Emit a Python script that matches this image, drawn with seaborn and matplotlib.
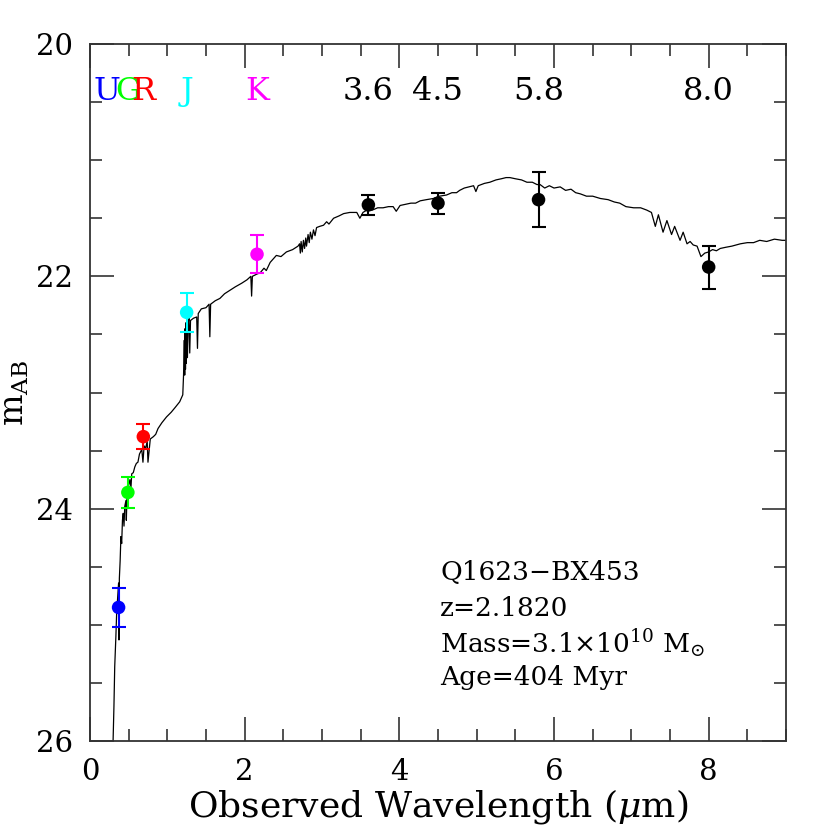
import numpy as np
import pandas as pd
import seaborn as sns
import matplotlib.pyplot as plt

sns.set_style("ticks")
plt.rcParams['font.family'] = ['DejaVu Serif']
plt.rcParams['mathtext.fontset'] = 'dejavuserif'
plt.rcParams['text.color'] = 'black'
plt.rcParams['axes.labelcolor'] = 'black'
plt.rcParams['xtick.labelcolor'] = 'black'
plt.rcParams['ytick.labelcolor'] = 'black'

# photometry
band_names = ["U", "G", "R", "J", "K", "3.6", "4.5", "5.8", "8.0"]
band_wave = [0.37, 0.49, 0.69, 1.25, 2.16, 3.6, 4.5, 5.8, 8.0]
band_mag = [24.85, 23.86, 23.38, 22.31, 21.81, 21.385, 21.37, 21.34, 21.92]
band_err = [0.17, 0.13, 0.11, 0.165, 0.165, 0.085, 0.09, 0.235, 0.185]
band_colors = ["#0000ff", "#00ff00", "#ff0000", "#00ffff", "#ff00ff",
               "black", "black", "black", "black"]

# best-fit model spectrum
model_wave = [0.295, 0.31, 0.32, 0.335, 0.345, 0.36, 0.37, 0.375, 0.38, 0.39,
              0.40, 0.41, 0.42, 0.43, 0.44, 0.45, 0.465, 0.47, 0.48, 0.50,
              0.517, 0.53, 0.54, 0.56, 0.58, 0.60, 0.62, 0.64, 0.67, 0.685,
              0.70, 0.72, 0.74, 0.75, 0.78, 0.82, 0.85, 0.88, 0.93, 0.99,
              1.05, 1.10, 1.16, 1.20, 1.21, 1.22, 1.225, 1.23, 1.235, 1.24,
              1.245, 1.25, 1.26, 1.27, 1.28, 1.29, 1.30, 1.34, 1.38, 1.39,
              1.40, 1.44, 1.50, 1.54, 1.55, 1.56, 1.62, 1.68, 1.74, 1.81,
              1.88, 1.96, 2.03, 2.08, 2.09, 2.10, 2.16, 2.20, 2.25, 2.28,
              2.33, 2.41, 2.47, 2.54, 2.62, 2.69, 2.71, 2.72, 2.73, 2.745,
              2.76, 2.775, 2.79, 2.80, 2.82, 2.835, 2.85, 2.87, 2.89, 2.91,
              2.93, 2.97, 3.02, 3.06, 3.09, 3.15, 3.22, 3.28, 3.36, 3.45,
              3.49, 3.53, 3.58, 3.65, 3.72, 3.79, 3.86, 3.92, 3.96, 4.01,
              4.08, 4.15, 4.21, 4.27, 4.35, 4.44, 4.52, 4.61, 4.68, 4.74,
              4.78, 4.84, 4.90, 4.96, 4.99, 5.02, 5.10, 5.17, 5.25, 5.32,
              5.38, 5.43, 5.50, 5.58, 5.65, 5.72, 5.78, 5.82, 5.88, 5.94,
              6.00, 6.08, 6.15, 6.22, 6.28, 6.34, 6.42, 6.50, 6.60, 6.70,
              6.78, 6.85, 6.93, 7.03, 7.12, 7.20, 7.26, 7.31, 7.35, 7.41,
              7.46, 7.52, 7.56, 7.63, 7.67, 7.72, 7.76, 7.80, 7.85, 7.90,
              7.95, 8.00, 8.05, 8.10, 8.15, 8.22, 8.30, 8.41, 8.50, 8.58,
              8.66, 8.75, 8.85, 8.95, 9.0]
model_mag = [26.1, 25.7, 25.36, 25.1, 24.90, 24.75, 24.64, 25.13, 24.6, 24.45,
             24.24, 24.3, 24.1, 24.04, 24.15, 23.98, 23.93, 24.1, 23.86, 23.8,
             23.75, 23.82, 23.7, 23.69, 23.64, 23.61, 23.6, 23.53, 23.49, 23.60,
             23.46, 23.48, 23.42, 23.6, 23.4, 23.38, 23.36, 23.31, 23.26, 23.21,
             23.17, 23.13, 23.08, 23.02, 22.85, 22.55, 22.85, 22.45, 22.8, 22.4,
             22.75, 22.38, 22.70, 22.40, 22.36, 22.66, 22.38, 22.36, 22.35, 22.62,
             22.32, 22.28, 22.27, 22.24, 22.52, 22.24, 22.21, 22.19, 22.15, 22.12,
             22.09, 22.06, 22.03, 22.00, 22.17, 22.0, 21.98, 21.97, 21.93, 21.95,
             21.88, 21.82, 21.83, 21.79, 21.77, 21.74, 21.72, 21.80, 21.70, 21.79,
             21.69, 21.76, 21.67, 21.74, 21.64, 21.71, 21.62, 21.68, 21.60, 21.65,
             21.58, 21.57, 21.56, 21.53, 21.55, 21.50, 21.48, 21.46, 21.45, 21.45,
             21.50, 21.45, 21.43, 21.43, 21.41, 21.41, 21.40, 21.40, 21.44, 21.39,
             21.38, 21.37, 21.37, 21.35, 21.34, 21.33, 21.31, 21.30, 21.28, 21.28,
             21.26, 21.24, 21.23, 21.22, 21.27, 21.22, 21.20, 21.19, 21.17, 21.16,
             21.15, 21.15, 21.16, 21.17, 21.19, 21.19, 21.21, 21.21, 21.24, 21.22,
             21.24, 21.23, 21.26, 21.25, 21.28, 21.29, 21.31, 21.31, 21.33, 21.34,
             21.36, 21.37, 21.40, 21.41, 21.41, 21.43, 21.45, 21.57, 21.47, 21.62,
             21.52, 21.64, 21.57, 21.69, 21.62, 21.72, 21.70, 21.73, 21.74, 21.83,
             21.80, 21.79, 21.77, 21.78, 21.76, 21.75, 21.74, 21.72, 21.71, 21.71,
             21.69, 21.70, 21.68, 21.69, 21.69]

info_lines = ["Q1623\u2212BX453", "z=2.1820",
              r"Mass=3.1$\times$10$^{10}$ M$_{\odot}$", "Age=404 Myr"]
info_y = [24.55, 24.855, 25.16, 25.45]

fig = plt.figure(figsize=(8.3, 8.3), dpi=100)
ax = fig.add_axes([0.1084, 0.1072, 0.8386, 0.8398])

spec = pd.DataFrame({"wave": model_wave, "mag": model_mag})
sns.lineplot(data=spec, x="wave", y="mag", sort=False, estimator=None,
             color="black", lw=0.9, ax=ax)

for w, m, e, c in zip(band_wave, band_mag, band_err, band_colors):
    ax.errorbar(w, m, yerr=e, fmt="none", ecolor=c, elinewidth=1.5,
                capsize=4.7, capthick=1.5, zorder=3)

phot = pd.DataFrame({"wave": band_wave, "mag": band_mag, "band": band_names})
sns.scatterplot(data=phot, x="wave", y="mag", hue="band",
                palette=dict(zip(band_names, band_colors)), s=95,
                edgecolor="none", legend=False, zorder=4, ax=ax)

for name, w, c in zip(band_names, band_wave, band_colors):
    x = w - 0.15 if name == "U" else w
    ax.text(x, 20.41, name, color=c, ha="center", va="center", fontsize=23)

for line, y in zip(info_lines, info_y):
    ax.text(4.53, y, line, ha="left", va="center", fontsize=19)

ax.set_xlim(0, 9)
ax.set_ylim(26, 20)
ax.set_xticks([0, 2, 4, 6, 8])
ax.set_xticks(np.arange(0, 9.01, 0.5), minor=True)
ax.set_yticks([20, 22, 24, 26])
ax.set_yticks(np.arange(20, 26.01, 0.5), minor=True)
ax.tick_params(which="both", direction="in", top=True, right=True,
               width=1.2, color="#333333", labelsize=21)
ax.tick_params(which="major", length=17)
ax.tick_params(which="minor", length=8.6)
ax.tick_params(axis="x", pad=12)
ax.tick_params(axis="y", pad=12)
for s in ax.spines.values():
    s.set_linewidth(1.3)
    s.set_color("#333333")

ax.set_xlabel(r"Observed Wavelength ($\mu$m)", fontsize=26, labelpad=1)
ax.set_ylabel(r"m$_{\rm AB}$", fontsize=24, labelpad=4)

fig.savefig("out.png", dpi=100)
